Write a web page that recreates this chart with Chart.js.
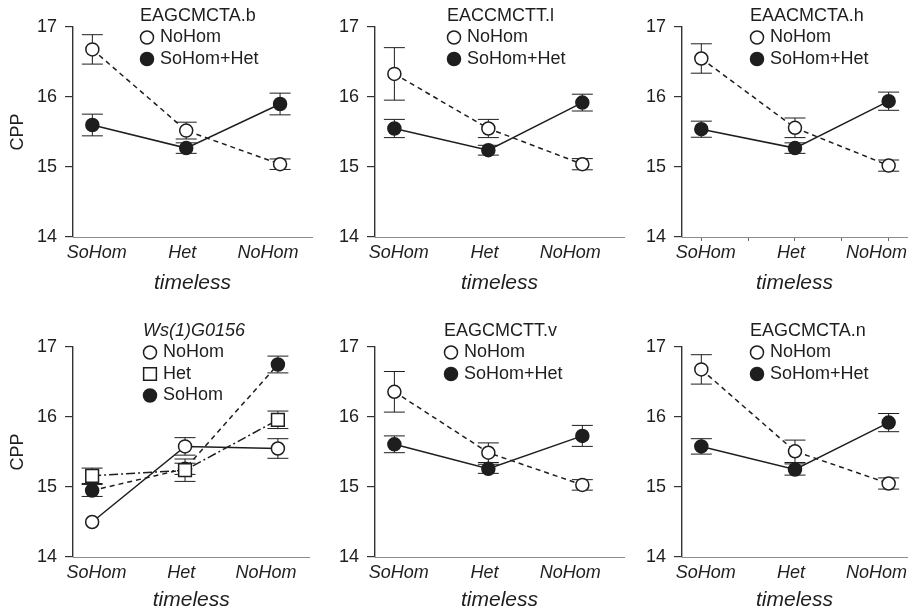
<!DOCTYPE html>
<html>
<head>
<meta charset="utf-8">
<script src="https://cdn.jsdelivr.net/npm/chart.js@4/dist/chart.umd.min.js"></script>
<style>
  html, body { margin: 0; padding: 0; background: #fff; width: 915px; height: 615px; overflow: hidden; }
  body { position: relative; }
  canvas { position: absolute; }
</style>
</head>
<body>
<script>
// --- DATOS ---
const categories = ['SoHom', 'Het', 'NoHom'];
const yTicks = [14, 15, 16, 17];
const panelTitles = ['EAGCMCTA.b', 'EACCMCTT.l', 'EAACMCTA.h', 'Ws(1)G0156', 'EAGCMCTT.v', 'EAGCMCTA.n'];

// EAGCMCTA.b
const bNoHom = [16.68, 15.52, 15.04];
const bNoHomSe = [0.21, 0.12, 0.075];
const bSoHet = [15.60, 15.27, 15.90];
const bSoHetSe = [0.155, 0.075, 0.155];
// EACCMCTT.l
const lNoHom = [16.33, 15.55, 15.04];
const lNoHomSe = [0.375, 0.13, 0.08];
const lSoHet = [15.55, 15.24, 15.92];
const lSoHetSe = [0.13, 0.07, 0.12];
// EAACMCTA.h
const hNoHom = [16.55, 15.56, 15.02];
const hNoHomSe = [0.21, 0.14, 0.08];
const hSoHet = [15.54, 15.27, 15.94];
const hSoHetSe = [0.115, 0.075, 0.13];
// Ws(1)G0156
const wNoHom = [14.50, 15.58, 15.55];
const wNoHomSe = [0, 0.125, 0.14];
const wHet = [15.16, 15.24, 15.96];
const wHetSe = [0.11, 0.16, 0.125];
const wSoHom = [14.95, 15.26, 16.75];
const wSoHomSe = [0.085, 0.08, 0.12];
// EAGCMCTT.v
const vNoHom = [16.36, 15.49, 15.03];
const vNoHomSe = [0.29, 0.14, 0.075];
const vSoHet = [15.61, 15.26, 15.73];
const vSoHetSe = [0.12, 0.065, 0.15];
// EAGCMCTA.n
const nNoHom = [16.68, 15.51, 15.05];
const nNoHomSe = [0.21, 0.16, 0.08];
const nSoHet = [15.58, 15.25, 15.92];
const nSoHetSe = [0.11, 0.08, 0.13];

// --- ESTILO / LAYOUT ---
const INK = '#1e1e1e';
const FONT = '"Liberation Sans", Arial, Helvetica, sans-serif';
const DASH = [5, 4];
const DASHDOT = [9, 3, 2, 3];
const CAP = 10.5;
const LINE_W = 1.5;

const cols = [
    { axis: 73, right: 320, yw: 70 },
    { axis: 375, right: 632, yw: 45 },
    { axis: 682, right: 915, yw: 45 }
];
const rows = [
    { top: 0, h: 300, padTop: 27, titlePad: 4, legendDy: -11 },
    { top: 310, h: 305, padTop: 37, titlePad: 2, legendDy: -16 }
];
const PLOT_H = 210;
const STEP = 97;         // px per category (data)
const LABEL_STEP = 88.5; // px per category (tick labels)

const panels = [
    { title: panelTitles[0], dx: 67, series: [
        { label: 'NoHom', values: bNoHom, errors: bNoHomSe, marker: 'open', dash: DASH },
        { label: 'SoHom+Het', values: bSoHet, errors: bSoHetSe, marker: 'filled', dash: [] }] },
    { title: panelTitles[1], dx: 72, series: [
        { label: 'NoHom', values: lNoHom, errors: lNoHomSe, marker: 'open', dash: DASH },
        { label: 'SoHom+Het', values: lSoHet, errors: lSoHetSe, marker: 'filled', dash: [] }] },
    { title: panelTitles[2], dx: 68, tickMarks: true, series: [
        { label: 'NoHom', values: hNoHom, errors: hNoHomSe, marker: 'open', dash: DASH },
        { label: 'SoHom+Het', values: hSoHet, errors: hSoHetSe, marker: 'filled', dash: [] }] },
    { title: panelTitles[3], dx: 70, italic: true, series: [
        { label: 'NoHom', values: wNoHom, errors: wNoHomSe, marker: 'open', dash: [] },
        { label: 'Het', values: wHet, errors: wHetSe, marker: 'square', dash: DASHDOT },
        { label: 'SoHom', values: wSoHom, errors: wSoHomSe, marker: 'filled', dash: DASH }] },
    { title: panelTitles[4], dx: 69, series: [
        { label: 'NoHom', values: vNoHom, errors: vNoHomSe, marker: 'open', dash: DASH },
        { label: 'SoHom+Het', values: vSoHet, errors: vSoHetSe, marker: 'filled', dash: [] }] },
    { title: panelTitles[5], dx: 68, series: [
        { label: 'NoHom', values: nNoHom, errors: nNoHomSe, marker: 'open', dash: DASH },
        { label: 'SoHom+Het', values: nSoHet, errors: nSoHetSe, marker: 'filled', dash: [] }] }
];

// --- PLUGINS ---
const errorBarPlugin = {
    id: 'errorBars',
    beforeDatasetsDraw(chart) {
        const { ctx } = chart;
        const x = chart.scales.x, y = chart.scales.y;
        ctx.save();
        ctx.strokeStyle = INK;
        ctx.lineWidth = 1;
        chart.data.datasets.forEach(ds => {
            ds.data.forEach((p, i) => {
                const e = ds.errors[i];
                if (!e) return;
                const px = x.getPixelForValue(p.x);
                const top = y.getPixelForValue(p.y + e);
                const bot = y.getPixelForValue(p.y - e);
                ctx.beginPath();
                ctx.moveTo(px, top); ctx.lineTo(px, bot);
                ctx.moveTo(px - CAP, top); ctx.lineTo(px + CAP, top);
                ctx.moveTo(px - CAP, bot); ctx.lineTo(px + CAP, bot);
                ctx.stroke();
            });
        });
        ctx.restore();
    }
};

function drawMarker(ctx, style, radius, x, y) {
    if (Chart.helpers && Chart.helpers.drawPoint) {
        Chart.helpers.drawPoint(ctx, { pointStyle: style, radius: radius, rotation: 0, borderWidth: LINE_W }, x, y);
        return;
    }
    ctx.beginPath();
    if (style === 'rect') {
        const s = radius * Math.SQRT1_2;
        ctx.rect(x - s, y - s, 2 * s, 2 * s);
    } else {
        ctx.arc(x, y, radius, 0, Math.PI * 2);
    }
    ctx.fill();
    ctx.stroke();
}

const panelLegend = {
    id: 'panelLegend',
    afterDraw(chart, args, opts) {
        const { ctx, chartArea } = chart;
        const x0 = chartArea.left + opts.dx;
        let yy = chartArea.top + opts.dy;
        ctx.save();
        ctx.textBaseline = 'middle';
        ctx.textAlign = 'left';
        ctx.fillStyle = INK;
        ctx.font = (opts.italic ? 'italic ' : '') + '18px ' + FONT;
        ctx.fillText(opts.title, x0, yy);
        ctx.font = '18px ' + FONT;
        chart.data.datasets.forEach(ds => {
            yy += opts.spacing;
            ctx.fillStyle = ds.pointBackgroundColor;
            ctx.strokeStyle = INK;
            ctx.lineWidth = LINE_W;
            drawMarker(ctx, ds.pointStyle, ds.pointStyle === 'rect' ? 9 : 6.5, x0 + 7, yy);
            ctx.fillStyle = INK;
            ctx.fillText(ds.label, x0 + 20, yy);
        });
        ctx.restore();
    }
};

function makeDataset(s) {
    return {
        label: s.label,
        data: s.values.map((v, i) => ({ x: i, y: v })),
        errors: s.errors,
        borderColor: INK,
        borderWidth: LINE_W,
        borderDash: s.dash,
        pointStyle: s.marker === 'square' ? 'rect' : 'circle',
        pointRadius: s.marker === 'square' ? 9 : 6.5,
        pointBorderWidth: LINE_W,
        pointBorderColor: INK,
        pointBackgroundColor: s.marker === 'filled' ? INK : '#ffffff',
        tension: 0,
        fill: false
    };
}

// --- GRÁFICOS ---
panels.forEach((p, idx) => {
    const col = cols[idx % 3];
    const row = rows[Math.floor(idx / 3)];
    const left = col.axis - col.yw;
    const width = col.right - left;
    const plotW = col.right - col.axis;

    const canvas = document.createElement('canvas');
    canvas.width = width;
    canvas.height = row.h;
    canvas.style.left = left + 'px';
    canvas.style.top = row.top + 'px';
    document.body.appendChild(canvas);

    const xMin = -20 / STEP;
    const tMin = -24.5 / LABEL_STEP;

    new Chart(canvas.getContext('2d'), {
        type: 'line',
        data: { datasets: p.series.map(makeDataset) },
        plugins: [errorBarPlugin, panelLegend],
        options: {
            responsive: false,
            animation: false,
            layout: { padding: { top: row.padTop, left: 0, right: 0, bottom: 0 } },
            plugins: {
                legend: { display: false },
                tooltip: { enabled: false },
                panelLegend: { title: p.title, italic: !!p.italic, dx: p.dx, dy: row.legendDy, spacing: 21.5 }
            },
            scales: {
                x: {
                    type: 'linear',
                    position: 'bottom',
                    weight: 0,
                    min: xMin,
                    max: xMin + plotW / STEP,
                    border: { display: true, color: '#8c8c8c', width: 1 },
                    grid: { display: !!p.tickMarks, drawOnChartArea: false, drawTicks: true, tickLength: 4, color: '#666' },
                    ticks: { display: false },
                    afterBuildTicks: s => {
                        s.ticks = (p.tickMarks ? [0, 0.5, 1, 1.5, 2] : [0, 1, 2]).map(v => ({ value: v }));
                    },
                    afterFit: s => { s.height = 0; s.paddingLeft = 0; s.paddingRight = 0; }
                },
                xt: {
                    type: 'linear',
                    position: 'bottom',
                    weight: 1,
                    min: tMin,
                    max: tMin + plotW / LABEL_STEP,
                    border: { display: false },
                    grid: { display: false, drawTicks: false },
                    ticks: {
                        color: INK,
                        padding: 5,
                        maxRotation: 0,
                        autoSkip: false,
                        font: { family: FONT, size: 18, style: 'italic' },
                        callback: v => categories[v]
                    },
                    afterBuildTicks: s => { s.ticks = categories.map((c, i) => ({ value: i })); },
                    title: {
                        display: true,
                        text: 'timeless',
                        color: INK,
                        font: { family: FONT, size: 21, style: 'italic' },
                        padding: { top: 0, bottom: row.titlePad }
                    },
                    afterFit: s => { s.height = row.h - row.padTop - PLOT_H; s.paddingLeft = 0; s.paddingRight = 0; }
                },
                y: {
                    position: 'left',
                    min: 14,
                    max: 17,
                    border: { display: true, color: '#333', width: 1.4 },
                    grid: { display: true, drawOnChartArea: false, drawTicks: true, tickLength: 8, color: '#333', lineWidth: 1.2 },
                    ticks: { color: INK, padding: 8, font: { family: FONT, size: 18 } },
                    afterBuildTicks: s => { s.ticks = yTicks.map(v => ({ value: v })); },
                    title: {
                        display: idx % 3 === 0,
                        text: 'CPP',
                        color: INK,
                        font: { family: FONT, size: 18 },
                        padding: { top: 4, bottom: 4 }
                    },
                    afterFit: s => { s.width = col.yw; s.paddingTop = 0; s.paddingBottom = 0; }
                }
            }
        }
    });
});
</script>
</body>
</html>
